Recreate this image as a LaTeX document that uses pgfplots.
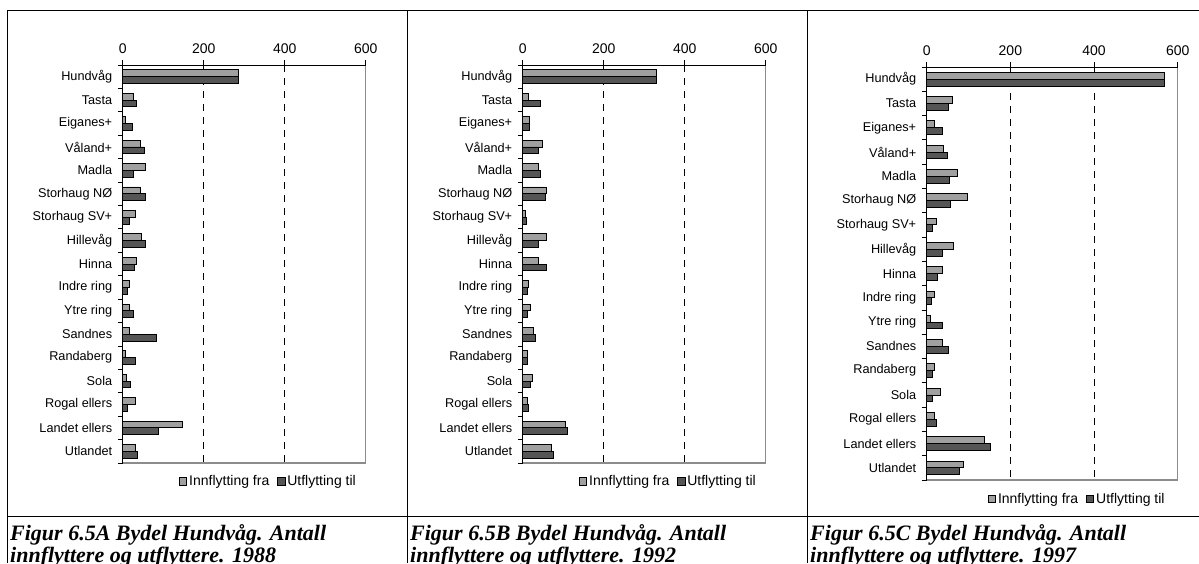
\documentclass[border=0pt]{standalone}
\usepackage{fontspec}
\setmainfont{Liberation Sans}
\newfontfamily\capfont{Liberation Serif}
\usepackage{pgfplots}
\pgfplotsset{compat=1.18}
\usepackage{pgfplotstable}

\definecolor{lightbar}{RGB}{160,160,160}
\definecolor{darkbar}{RGB}{85,85,85}
\definecolor{frameg}{RGB}{140,140,140}

\pgfplotstableread{
idx inn ut
0 285 285
1 27 34
2 8 23
3 44 54
4 56 26
5 44 57
6 31 16
7 46 55
8 35 29
9 17 12
10 16 27
11 16 83
12 7 32
13 10 19
14 31 12
15 147 88
16 32 37
}\dataA

\pgfplotstableread{
idx inn ut
0 329 329
1 14 44
2 16 16
3 49 40
4 38 44
5 59 57
6 8 10
7 58 39
8 40 59
9 15 11
10 19 12
11 27 32
12 11 12
13 23 19
14 12 14
15 105 110
16 72 77
}\dataB

\pgfplotstableread{
idx inn ut
0 568 568
1 61 52
2 19 37
3 39 49
4 74 55
5 98 57
6 23 14
7 64 37
8 37 26
9 18 11
10 10 37
11 37 52
12 18 14
13 32 14
14 18 23
15 138 153
16 88 79
}\dataC

\pgfplotsset{
  panel/.style={
    xbar, scale only axis,
    xmin=0, xmax=600, ymin=-0.5, ymax=16.5, y dir=reverse,
    xtick={0,200,400,600}, xtick pos=upper, xticklabel pos=upper,
    ytick={0,...,16},
    yticklabels={Hundvåg,Tasta,Eiganes+,Våland+,Madla,Storhaug NØ,Storhaug SV+,Hillevåg,Hinna,Indre ring,Ytre ring,Sandnes,Randaberg,Sola,Rogal ellers,Landet ellers,Utlandet},
    ytick pos=left,
    minor ytick={-0.5,0.5,...,16.5},
    major y tick style={draw=none},
    minor y tick style={black, line width=0.8pt},
    major x tick style={black, line width=0.8pt},
    tick align=outside, major tick length=5pt, minor tick length=5pt,
    axis line style={draw=none},
    bar width=6.8pt,
    /pgf/number format/assume math mode=true,
    xticklabel style={font=\fontsize{14}{16}\selectfont, yshift=3pt},
    yticklabel style={font=\fontsize{12.7}{14}\selectfont, xshift=-2pt},
    legend columns=2,
    legend image code/.code={\draw[#1, line width=0.8pt] (0pt,-3.6pt) rectangle (7.2pt,3.6pt);},
    legend style={draw=none, fill=none, font=\fontsize{14}{16}\selectfont,
      at={(0.6,-0.046)}, anchor=center, inner sep=0pt,
      /tikz/every even column/.append style={column sep=6pt}},
    clip=false,
  },
}

\newcommand\panel[3]{%
  \begin{axis}[panel, at={#1}, anchor=north west, #2]
    \draw[black, line width=0.8pt, dash pattern=on 7pt off 6pt] (axis cs:200,-0.5) -- (axis cs:200,16.5);
    \draw[black, line width=0.8pt, dash pattern=on 7pt off 6pt] (axis cs:400,-0.5) -- (axis cs:400,16.5);
    \addplot[fill=lightbar, draw=black, line width=0.9pt, bar shift=3.4pt] table[x=inn, y=idx] {#3};
    \addplot[fill=darkbar, draw=black, line width=0.9pt, bar shift=-3.4pt] table[x=ut, y=idx] {#3};
    \legend{Innflytting fra, Utflytting til}
    \draw[frameg, line width=1.3pt] (axis cs:600,-0.5) -- (axis cs:600,16.5) -- (axis cs:0,16.5);
    \draw[black, line width=0.9pt] (axis cs:0,16.5) -- (axis cs:0,-0.5) -- (axis cs:600,-0.5);
  \end{axis}%
}

\begin{document}
\begin{tikzpicture}
  \useasboundingbox (0pt,0pt) rectangle (1199pt,-563pt);
  % frame
  \draw[line width=1pt] (7.3pt,-10pt) -- (1199pt,-10pt);
  \draw[line width=1pt] (7.3pt,-10pt) -- (7.3pt,-563pt);
  \draw[line width=1pt] (407.3pt,-10pt) -- (407.3pt,-563pt);
  \draw[line width=1pt] (807.3pt,-10pt) -- (807.3pt,-563pt);
  \draw[line width=1pt] (7.3pt,-516pt) -- (1199pt,-516pt);

  \panel{(122.7pt,-65pt)}{width=243pt, height=398pt}{\dataA}
  \panel{(522.7pt,-65pt)}{width=243pt, height=398pt}{\dataB}
  \panel{(926.7pt,-67pt)}{width=251pt, height=413pt}{\dataC}

  % captions
  \begin{scope}[every node/.style={anchor=base west, inner sep=0pt, font=\capfont\bfseries\itshape\fontsize{22}{24}\selectfont}]
    \node at (10pt,-540pt) {Figur 6.5A Bydel Hundvåg. Antall};
    \node at (10pt,-562pt) {innflyttere og utflyttere. 1988};
    \node at (410pt,-540pt) {Figur 6.5B Bydel Hundvåg. Antall};
    \node at (410pt,-562pt) {innflyttere og utflyttere. 1992};
    \node at (810pt,-540pt) {Figur 6.5C Bydel Hundvåg. Antall};
    \node at (810pt,-562pt) {innflyttere og utflyttere. 1997};
  \end{scope}
\end{tikzpicture}
\end{document}
